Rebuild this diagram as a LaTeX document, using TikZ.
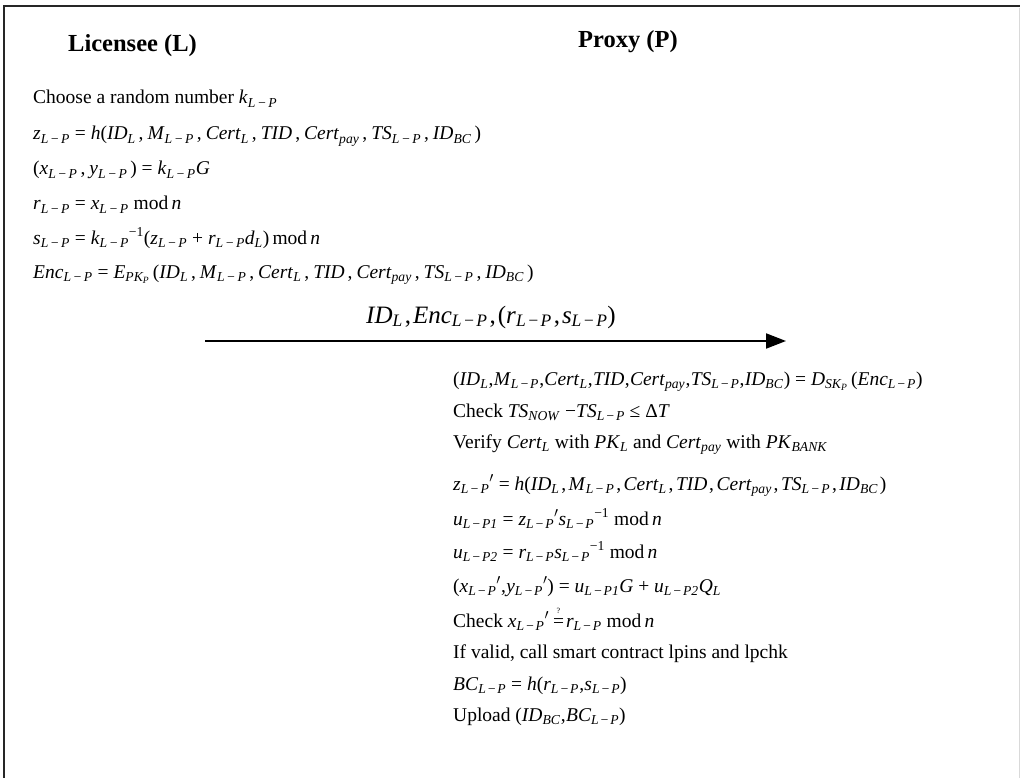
\documentclass[tikz,border=0pt]{standalone}
\usepackage{fontspec}
\setmainfont{Liberation Serif}
\usetikzlibrary{arrows.meta}
\newlength{\cmb}\newlength{\cma}\newlength{\mnk}
\setlength{\cmb}{3pt}\setlength{\cma}{4pt}\setlength{\mnk}{1.8pt}
\newcommand{\I}[1]{\textit{#1}}
\newcommand{\sbs}[1]{\textsubscript{\textit{#1}}}
\newcommand{\LP}{\sbs{L\kern\mnk−\kern\mnk P}}
\newcommand{\sps}[1]{\textsuperscript{#1}}
\newcommand{\pr}{\textsuperscript{$\prime$}}
\newcommand{\cm}{\kern\cmb,\kern\cma}
\newcommand{\qeq}{\rlap{\raisebox{14pt}{\kern3.5pt\fontsize{8}{8}\selectfont ?}}=}
\newcommand{\tup}{(\I{ID}\sbs{L}\cm\I{M}\LP\cm\I{Cert}\sbs{L}\cm\I{TID}\cm\I{Cert}\sbs{pay}\cm\I{TS}\LP\cm\I{ID}\sbs{BC}\kern\cmb)}
\newcommand{\msg}{\I{h}\tup}
\begin{document}
\begin{tikzpicture}[x=1pt,y=-1pt,
  line/.style={anchor=base west,inner sep=0pt,font=\fontsize{19.5}{23}\selectfont},
  rline/.style={line,execute at begin node={\setlength{\cmb}{0.3pt}\setlength{\cma}{0.3pt}\setlength{\mnk}{1.2pt}}},
  zline/.style={line,execute at begin node={\setlength{\cmb}{1.8pt}\setlength{\cma}{2.5pt}\setlength{\mnk}{1.5pt}}},
  head/.style={anchor=base west,inner sep=0pt,font=\fontsize{24.5}{29}\selectfont\bfseries},
  lbl/.style={anchor=base,inner sep=0pt,font=\fontsize{25}{30}\selectfont,
    execute at begin node={\setlength{\cmb}{2pt}\setlength{\cma}{2pt}\setlength{\mnk}{1.5pt}}},
  frame/.style={line width=2.5pt,draw=black!85}]
\useasboundingbox (0,0) rectangle (1020,778);
\fill[white] (0,0) rectangle (1020,778);
\draw[frame] (4,778) -- (4,6) -- (1020,6);
\draw[black!15,line width=0.8pt] (1019,8) -- (1019,778);
% headings
\node[head] (hL) at (68,52) {Licensee (L)};
\node[head] (hP) at (578,48) {Proxy (P)};
% licensee side
\node[line] (l1) at (33,104) {Choose a random number \I{k}\LP};
\node[line] (l2) at (33,140) {\I{z}\LP{} = \msg};
\node[line] (l3) at (33,175) {(\I{x}\LP\cm\I{y}\LP\kern\cmb) = \I{k}\LP\I{G}};
\node[line] (l4) at (33,210) {\I{r}\LP{} = \I{x}\LP{} mod\,\I{n}};
\node[line] (l5) at (33,244) {\I{s}\LP{} = \I{k}\LP\sps{−1}(\I{z}\LP{} + \I{r}\LP\I{d}\sbs{L})\,mod\,\I{n}};
\node[line] (l6) at (33,278) {\I{Enc}\LP{} = \I{E}\sbs{PK\textsubscript{P}}\,\tup};
% message
\coordinate (a1) at (205,341);
\coordinate (a2) at (786,341);
\draw[line width=2pt,-{Triangle[length=20pt,width=15pt]}] (a1) -- (a2);
\node[lbl] (m) at (491,323) {\I{ID}\sbs{L}\cm\I{Enc}\LP\cm(\I{r}\LP\cm\I{s}\LP)};
% proxy side
\node[rline] (r1) at (453,385) {\tup{} = \I{D}\sbs{SK\textsubscript{P}}\,(\I{Enc}\LP)};
\node[rline] (r2) at (453,417) {Check \I{TS}\sbs{NOW} −\I{TS}\LP{} ≤ Δ\I{T}};
\node[rline] (r3) at (453,448) {Verify \I{Cert}\sbs{L} with \I{PK}\sbs{L} and \I{Cert}\sbs{pay} with \I{PK}\sbs{BANK}};
\node[zline] (r4) at (453,490) {\I{z}\LP\pr{} = \msg};
\node[rline] (r5) at (453,525) {\I{u}\sbs{L\kern\mnk−\kern\mnk P1} = \I{z}\LP\pr\I{s}\LP\sps{−1} mod\,\I{n}};
\node[rline] (r6) at (453,558) {\I{u}\sbs{L\kern\mnk−\kern\mnk P2} = \I{r}\LP\I{s}\LP\sps{−1} mod\,\I{n}};
\node[rline] (r7) at (453,592) {(\I{x}\LP\pr\cm\I{y}\LP\pr) = \I{u}\sbs{L\kern\mnk−\kern\mnk P1}\I{G} + \I{u}\sbs{L\kern\mnk−\kern\mnk P2}\I{Q}\sbs{L}};
\node[rline] (r8) at (453,627) {Check \I{x}\LP\pr\kern4pt\qeq\kern2pt\I{r}\LP{} mod\,\I{n}};
\node[rline] (r9) at (453,658) {If valid, call smart contract lpins and lpchk};
\node[rline] (r10) at (453,690) {\I{BC}\LP{} = \I{h}(\I{r}\LP\cm\I{s}\LP)};
\node[rline] (r11) at (453,721) {Upload (\I{ID}\sbs{BC}\cm\I{BC}\LP)};
\end{tikzpicture}
\end{document}
